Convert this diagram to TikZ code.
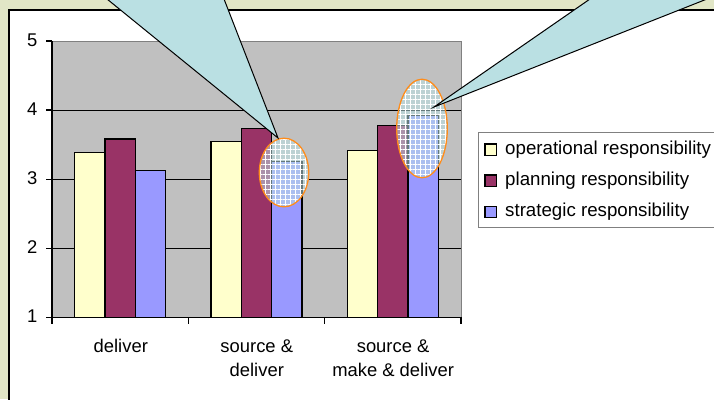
\documentclass[tikz,border=0pt]{standalone}
\usepackage{fontspec}
\setmainfont{Liberation Sans}
\usetikzlibrary{patterns.meta}
\definecolor{bggreen}{RGB}{225,230,198}
\definecolor{plotgray}{RGB}{192,192,192}
\definecolor{barY}{RGB}{255,255,204}
\definecolor{barP}{RGB}{153,51,102}
\definecolor{barB}{RGB}{153,153,255}
\definecolor{callout}{RGB}{186,224,227}
\definecolor{ellorange}{RGB}{255,140,26}
\definecolor{axisgray}{RGB}{128,128,128}
\tikzset{
  bar/.style={draw=black, line width=1.2pt},
  lab/.style={font=\fontsize{18.4}{24.5}\selectfont, inner sep=0pt},
  leglab/.style={font=\fontsize{18.7}{24.5}\selectfont, inner sep=0pt},
  legsq/.style={draw=black, line width=1.1pt},
  hilite/.style={fill=callout, fill opacity=0.55},
  hgrid/.style={pattern={Lines[angle=0,distance=5pt,line width=0.5pt]}, pattern color=white, fill opacity=0.3},
  vgrid/.style={pattern={Lines[angle=90,distance=5pt,line width=0.5pt]}, pattern color=white, fill opacity=0.3},
  ellline/.style={draw=ellorange, line width=1.3pt},
  calloutline/.style={draw=black, line width=1pt, line join=miter},
}
\begin{document}
\begin{tikzpicture}[x=1pt,y=-1pt]
\useasboundingbox (0,0) rectangle (714,399);
\clip (0,0) rectangle (714,399);
% frame
\fill[bggreen] (0,0) rectangle (714,399);
\fill[white] (9,10) rectangle (716,401);
\draw[black, line width=2pt] (9,401) -- (9,10) -- (716,10);
% plot area
\fill[plotgray] (52,41) rectangle (461,317.3);
\draw[axisgray, line width=1pt] (52,41) -- (461,41) -- (461,317.3);
\foreach \v in {2,3,4} {
  \draw[black, line width=0.9pt] (52,{317.3-(\v-1)*69.1}) -- (461,{317.3-(\v-1)*69.1});
}
% bars
\foreach \i/\a/\b/\c in {0/3.38/3.58/3.12, 1/3.54/3.73/3.26, 2/3.41/3.77/3.92} {
  \pgfmathsetmacro{\xs}{52+136.33*\i+22.7}
  \filldraw[bar, fill=barY] (\xs,317.3) rectangle ({\xs+30.3},{317.3-(\a-1)*69.1});
  \filldraw[bar, fill=barP] ({\xs+30.3},317.3) rectangle ({\xs+60.6},{317.3-(\b-1)*69.1});
  \filldraw[bar, fill=barB] ({\xs+60.6},317.3) rectangle ({\xs+90.9},{317.3-(\c-1)*69.1});
}
% axes
\draw[black, line width=1.2pt] (52,41) -- (52,317.3) -- (461,317.3);
\foreach \v in {1,...,5} {
  \draw[black, line width=1.2pt] (46,{317.3-(\v-1)*69.1}) -- (52,{317.3-(\v-1)*69.1});
}
\foreach \i in {0,1,2,3} {
  \draw[black, line width=1.2pt] ({52+136.33*\i},317.3) -- ({52+136.33*\i},323.5);
}
% y labels
\node[lab, anchor=base east] (y5) at (37.5,46.5) {5};
\node[lab, anchor=base east] (y4) at (37.5,115.6) {4};
\node[lab, anchor=base east] (y3) at (37.5,184.7) {3};
\node[lab, anchor=base east] (y2) at (37.5,253.8) {2};
\node[lab, anchor=base east] (y1) at (37.5,322.9) {1};
% category labels
\node[lab, anchor=base] (c1) at (120.8,352.3) {deliver};
\node[lab, anchor=base] (c2a) at (256.8,352.3) {source \&};
\node[lab, anchor=base] (c2b) at (256.8,376.8) {deliver};
\node[lab, anchor=base] (c3a) at (393.1,352.3) {source \&};
\node[lab, anchor=base] (c3b) at (393.1,376.8) {make \& deliver};
% legend
\filldraw[draw=axisgray, fill=white, line width=1pt] (478,132) rectangle (725,227);
\filldraw[legsq, fill=barY] (485,144) rectangle (496.5,155.7);
\filldraw[legsq, fill=barP] (485,175) rectangle (496.5,186.7);
\filldraw[legsq, fill=barB] (485,206.2) rectangle (496.5,217.9);
\node[leglab, anchor=base west] (l1) at (505,154) {operational responsibility};
\node[leglab, anchor=base west] (l2) at (505,185.1) {planning responsibility};
\node[leglab, anchor=base west] (l3) at (505,216.2) {strategic responsibility};
% highlight ellipses
\coordinate (e1) at (284,172.5);
\coordinate (e2) at (422,128.5);
\foreach \e/\rx/\ry in {e1/24.7/34.3, e2/25.3/49.3} {
  \fill[hilite] (\e) ellipse [x radius=\rx, y radius=\ry];
  \fill[hgrid] (\e) ellipse [x radius=\rx, y radius=\ry];
  \fill[vgrid] (\e) ellipse [x radius=\rx, y radius=\ry];
  \draw[ellline] (\e) ellipse [x radius=\rx, y radius=\ry];
}
% callouts
\coordinate (t1) at (278,138);
\coordinate (t2) at (434,107);
\coordinate (a1) at (107,-1);
\coordinate (b1) at (224,-1);
\coordinate (a2) at (590,-1);
\coordinate (b2) at (707,-1);
\fill[callout] (a1) -- (t1) -- (b1) -- cycle;
\draw[calloutline] (a1) -- (t1) -- (b1);
\fill[callout] (a2) -- (t2) -- (b2) -- cycle;
\draw[calloutline] (a2) -- (t2) -- (b2);
\end{tikzpicture}
\end{document}
